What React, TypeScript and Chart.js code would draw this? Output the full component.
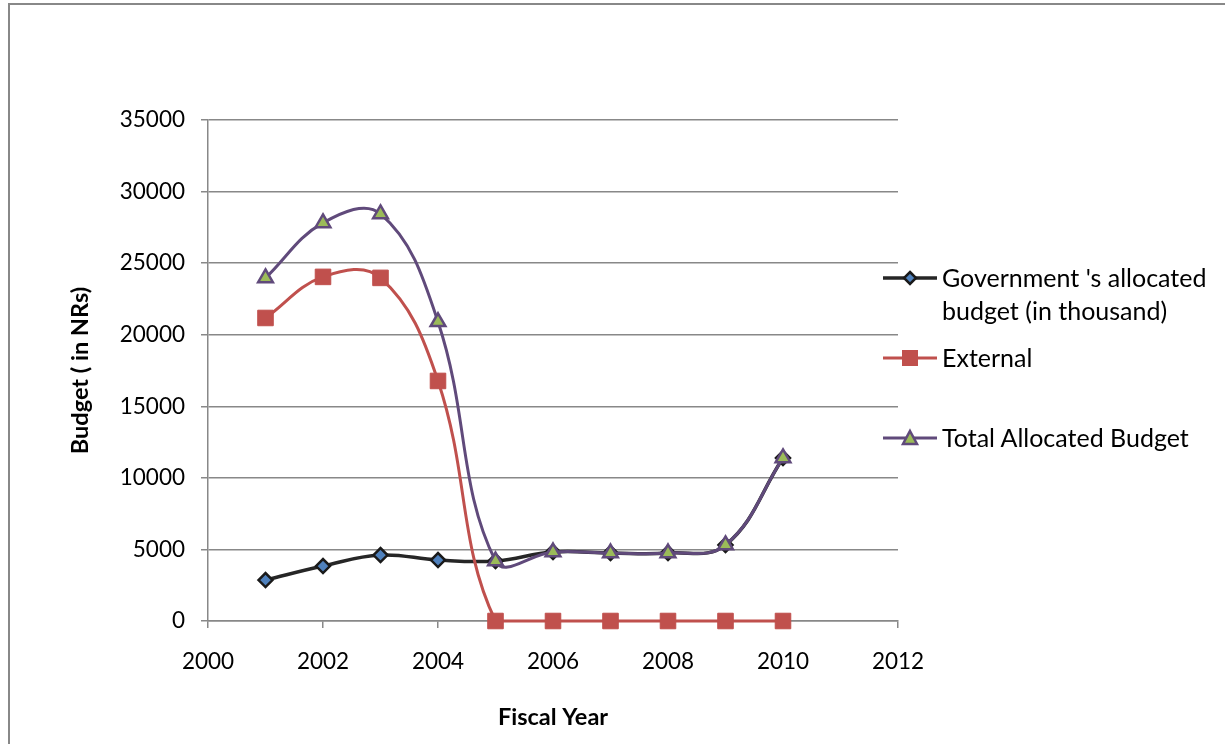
import React, { useEffect, useRef } from "react";
import { Chart, registerables } from "chart.js";

Chart.register(...registerables);

const years = [2001, 2002, 2003, 2004, 2005, 2006, 2007, 2008, 2009, 2010];
const govBudget = [2860, 3840, 4610, 4260, 4190, 4820, 4750, 4750, 5310, 11390];
const externalBudget = [21170, 24040, 23970, 16770, 0, 0, 0, 0, 0, 0];
const totalBudget = [23970, 27810, 28440, 20900, 4190, 4820, 4750, 4750, 5310, 11390];

const seriesNames = [
  ["Government 's allocated", "budget (in thousand)"],
  ["External"],
  ["Total Allocated Budget"],
];
const xTitle = "Fiscal Year";
const yTitle = "Budget ( in NRs)";

const FONT = "Lato, 'Open Sans', sans-serif";

export default function App() {
  const ref = useRef<HTMLCanvasElement | null>(null);

  useEffect(() => {
    if (!ref.current) return;
    const pts = (vals: number[]) => years.map((x, i) => ({ x, y: vals[i] }));
    const chart = new Chart(ref.current, {
      type: "scatter",
      data: {
        datasets: [
          {
            label: seriesNames[0].join(" "),
            data: pts(govBudget),
            showLine: true,
            borderColor: "#262626",
            borderWidth: 3.5,
            pointStyle: "rectRot",
            pointRadius: 7,
            pointBackgroundColor: "#4F81BD",
            pointBorderColor: "#1a1a1a",
            pointBorderWidth: 2.5,
            tension: 0.4,
            clip: false,
            order: 2,
          },
          {
            label: seriesNames[1][0],
            data: pts(externalBudget),
            showLine: true,
            borderColor: "#C0504D",
            borderWidth: 3,
            pointStyle: "rect",
            pointRadius: 11,
            pointBackgroundColor: "#C0504D",
            pointBorderColor: "#C0504D",
            pointBorderWidth: 1,
            tension: 0.4,
            clip: false,
            order: 1,
          },
          {
            label: seriesNames[2][0],
            data: pts(totalBudget),
            showLine: true,
            borderColor: "#604A7B",
            borderWidth: 3,
            pointStyle: "triangle",
            pointRadius: 8.5,
            pointBackgroundColor: "#9BBB59",
            pointBorderColor: "#604A7B",
            pointBorderWidth: 2.5,
            tension: 0.4,
            clip: false,
            order: 0,
          },
        ],
      },
      options: {
        animation: false,
        responsive: true,
        maintainAspectRatio: false,
        layout: { padding: { left: 66, top: 120, right: 1225 - 898, bottom: 12 } },
        plugins: { legend: { display: false }, tooltip: { enabled: false } },
        scales: {
          x: {
            type: "linear",
            min: 2000,
            max: 2012,
            afterFit: (s: any) => {
              s.height = 744 - 621 - 12;
            },
            ticks: {
              stepSize: 2,
              color: "#000",
              font: { family: FONT, size: 22.5 },
              padding: 20,
              callback: (v: any) => String(v),
            },
            grid: { drawOnChartArea: false, drawTicks: true, tickLength: 7, color: "#888", lineWidth: 1.5 },
            border: { color: "#888", width: 1.5 },
            title: {
              display: true,
              text: xTitle,
              color: "#000",
              font: { family: FONT, size: 23.5, weight: "bold" },
              padding: { top: 0, bottom: 0 },
            },
          },
          y: {
            min: 0,
            max: 35000,
            afterFit: (s: any) => {
              s.width = 208 - 66;
            },
            ticks: {
              stepSize: 5000,
              color: "#000",
              font: { family: FONT, size: 22.5 },
              padding: 16,
              callback: (v: any) => String(v),
            },
            grid: { drawTicks: true, tickLength: 7, color: "#888", lineWidth: 1.5 },
            border: { color: "#888", width: 1.5 },
            title: {
              display: true,
              text: yTitle,
              color: "#000",
              font: { family: FONT, size: 23.5, weight: "bold" },
              padding: { top: 0, bottom: 0 },
            },
          },
        },
      },
    });
    return () => chart.destroy();
  }, []);

  const legendItem = (kind: number) => {
    if (kind === 0)
      return (
        <svg width="56" height="20" style={{ display: "block" }}>
          <line x1="1" y1="10" x2="55" y2="10" stroke="#262626" strokeWidth="3.5" />
          <polygon points="28,4 34,10 28,16 22,10" fill="#4F81BD" stroke="#1a1a1a" strokeWidth="2.5" />
        </svg>
      );
    if (kind === 1)
      return (
        <svg width="56" height="20" style={{ display: "block" }}>
          <line x1="1" y1="10" x2="55" y2="10" stroke="#C0504D" strokeWidth="3" />
          <rect x="20" y="2" width="16" height="16" fill="#C0504D" />
        </svg>
      );
    return (
      <svg width="56" height="20" style={{ display: "block" }}>
        <line x1="1" y1="10" x2="55" y2="10" stroke="#604A7B" strokeWidth="3" />
        <polygon points="28,3 35,16 21,16" fill="#9BBB59" stroke="#604A7B" strokeWidth="2.5" />
      </svg>
    );
  };

  const legendTops = [261, 341, 421];

  return (
    <div style={{ position: "fixed", left: 0, top: 0, width: 1225, height: 744, overflow: "hidden", background: "#fff" }}>
      <div
        style={{
          position: "absolute",
          left: 8,
          top: 3,
          width: 1400,
          height: 900,
          borderLeft: "2px solid #888",
          borderTop: "2px solid #888",
        }}
      />
      <div style={{ position: "absolute", left: 0, top: 0, width: 1225, height: 744 }}>
        <canvas ref={ref} />
      </div>
      {seriesNames.map((lines, i) => (
        <div key={i} style={{ position: "absolute", left: 882, top: legendTops[i], display: "flex", alignItems: "flex-start" }}>
          <div style={{ marginTop: 7 }}>{legendItem(i)}</div>
          <div style={{ marginLeft: 4, fontFamily: FONT, fontSize: 25, lineHeight: "33px", color: "#000" }}>
            {lines.map((l, j) => (
              <div key={j}>{l}</div>
            ))}
          </div>
        </div>
      ))}
    </div>
  );
}
